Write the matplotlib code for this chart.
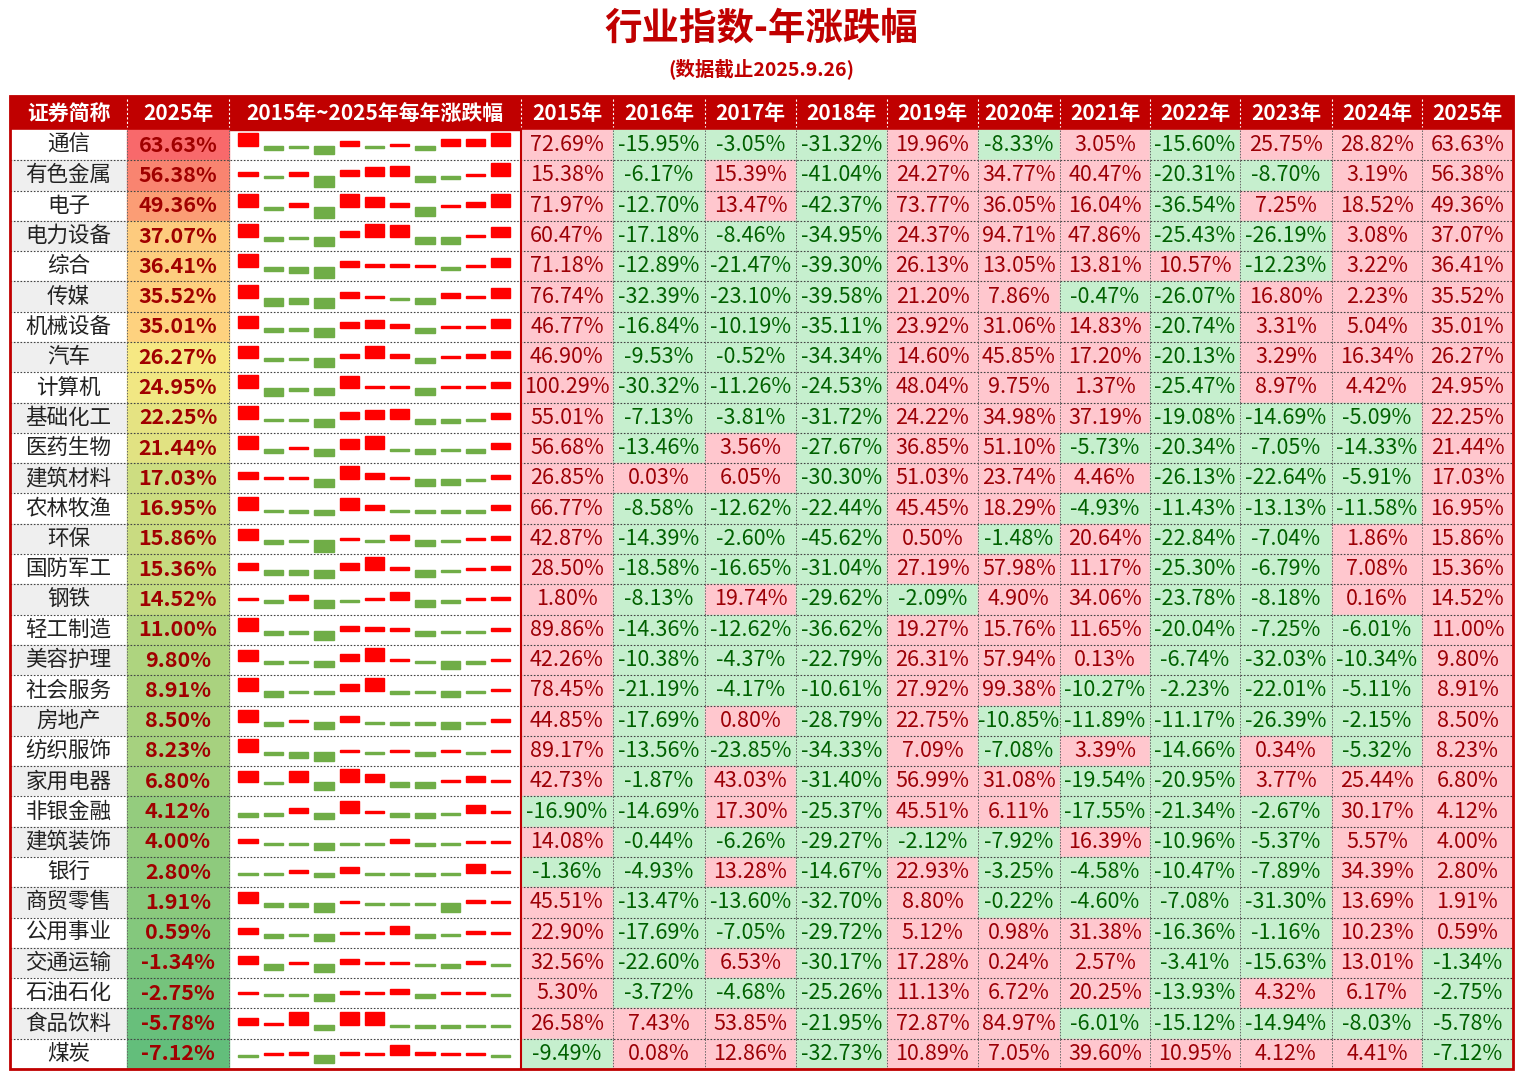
import matplotlib
matplotlib.use("Agg")
import matplotlib.pyplot as plt
from matplotlib.patches import Rectangle
from matplotlib.colors import LinearSegmentedColormap
import numpy as np

plt.rcParams['font.family'] = ['Noto Sans CJK SC', 'DejaVu Sans']

title = "行业指数-年涨跌幅"
subtitle = "(数据截止2025.9.26)"
years = ["2015年","2016年","2017年","2018年","2019年","2020年","2021年","2022年","2023年","2024年","2025年"]
industries = ["通信","有色金属","电子","电力设备","综合","传媒","机械设备","汽车","计算机","基础化工","医药生物",
              "建筑材料","农林牧渔","环保","国防军工","钢铁","轻工制造","美容护理","社会服务","房地产","纺织服饰",
              "家用电器","非银金融","建筑装饰","银行","商贸零售","公用事业","交通运输","石油石化","食品饮料","煤炭"]
values = [
 [72.69,-15.95,-3.05,-31.32,19.96,-8.33,3.05,-15.60,25.75,28.82,63.63],
 [15.38,-6.17,15.39,-41.04,24.27,34.77,40.47,-20.31,-8.70,3.19,56.38],
 [71.97,-12.70,13.47,-42.37,73.77,36.05,16.04,-36.54,7.25,18.52,49.36],
 [60.47,-17.18,-8.46,-34.95,24.37,94.71,47.86,-25.43,-26.19,3.08,37.07],
 [71.18,-12.89,-21.47,-39.30,26.13,13.05,13.81,10.57,-12.23,3.22,36.41],
 [76.74,-32.39,-23.10,-39.58,21.20,7.86,-0.47,-26.07,16.80,2.23,35.52],
 [46.77,-16.84,-10.19,-35.11,23.92,31.06,14.83,-20.74,3.31,5.04,35.01],
 [46.90,-9.53,-0.52,-34.34,14.60,45.85,17.20,-20.13,3.29,16.34,26.27],
 [100.29,-30.32,-11.26,-24.53,48.04,9.75,1.37,-25.47,8.97,4.42,24.95],
 [55.01,-7.13,-3.81,-31.72,24.22,34.98,37.19,-19.08,-14.69,-5.09,22.25],
 [56.68,-13.46,3.56,-27.67,36.85,51.10,-5.73,-20.34,-7.05,-14.33,21.44],
 [26.85,0.03,6.05,-30.30,51.03,23.74,4.46,-26.13,-22.64,-5.91,17.03],
 [66.77,-8.58,-12.62,-22.44,45.45,18.29,-4.93,-11.43,-13.13,-11.58,16.95],
 [42.87,-14.39,-2.60,-45.62,0.50,-1.48,20.64,-22.84,-7.04,1.86,15.86],
 [28.50,-18.58,-16.65,-31.04,27.19,57.98,11.17,-25.30,-6.79,7.08,15.36],
 [1.80,-8.13,19.74,-29.62,-2.09,4.90,34.06,-23.78,-8.18,0.16,14.52],
 [89.86,-14.36,-12.62,-36.62,19.27,15.76,11.65,-20.04,-7.25,-6.01,11.00],
 [42.26,-10.38,-4.37,-22.79,26.31,57.94,0.13,-6.74,-32.03,-10.34,9.80],
 [78.45,-21.19,-4.17,-10.61,27.92,99.38,-10.27,-2.23,-22.01,-5.11,8.91],
 [44.85,-17.69,0.80,-28.79,22.75,-10.85,-11.89,-11.17,-26.39,-2.15,8.50],
 [89.17,-13.56,-23.85,-34.33,7.09,-7.08,3.39,-14.66,0.34,-5.32,8.23],
 [42.73,-1.87,43.03,-31.40,56.99,31.08,-19.54,-20.95,3.77,25.44,6.80],
 [-16.90,-14.69,17.30,-25.37,45.51,6.11,-17.55,-21.34,-2.67,30.17,4.12],
 [14.08,-0.44,-6.26,-29.27,-2.12,-7.92,16.39,-10.96,-5.37,5.57,4.00],
 [-1.36,-4.93,13.28,-14.67,22.93,-3.25,-4.58,-10.47,-7.89,34.39,2.80],
 [45.51,-13.47,-13.60,-32.70,8.80,-0.22,-4.60,-7.08,-31.30,13.69,1.91],
 [22.90,-17.69,-7.05,-29.72,5.12,0.98,31.38,-16.36,-1.16,10.23,0.59],
 [32.56,-22.60,6.53,-30.17,17.28,0.24,2.57,-3.41,-15.63,13.01,-1.34],
 [5.30,-3.72,-4.68,-25.26,11.13,6.72,20.25,-13.93,4.32,6.17,-2.75],
 [26.58,7.43,53.85,-21.95,72.87,84.97,-6.01,-15.12,-14.94,-8.03,-5.78],
 [-9.49,0.08,12.86,-32.73,10.89,7.05,39.60,10.95,4.12,4.41,-7.12],
]
headers = ["证券简称","2025年","2015年~2025年每年涨跌幅"] + years

W, H = 1523, 1080
fig = plt.figure(figsize=(W/100, H/100), dpi=100)
ax = fig.add_axes([0,0,1,1])
ax.set_xlim(0, W); ax.set_ylim(H, 0); ax.axis('off')

xb = [10,127,229,521,613,705,796,887,978,1060,1150,1240,1332,1422,1513]
y0, hh = 96, 34
nrow = len(industries)
rh = (1069 - (y0+hh)) / nrow
RED = "#C00000"
FS = 15.5

ax.text(W/2, 28, title, ha='center', va='center', fontsize=27, fontweight='bold', color=RED)
ax.text(W/2, 69, subtitle, ha='center', va='center', fontsize=14, fontweight='bold', color=RED)

ax.add_patch(Rectangle((xb[0], y0), xb[-1]-xb[0], hh, color=RED, zorder=1))
for j, h in enumerate(headers):
    ax.text((xb[j]+xb[j+1])/2, y0+hh/2, h, ha='center', va='center', fontsize=15,
            fontweight='bold', color='white', zorder=3)
    if 0 < j:
        ax.plot([xb[j]]*2, [y0+3, y0+hh-3], color='white', lw=0.8, ls=(0,(2,2)), zorder=3)

cmap = LinearSegmentedColormap.from_list("g", ["#63BE7B", "#FFEB84", "#F8696B"])
v25 = [r[-1] for r in values]
vmin, vmax = min(v25), max(v25)

for i, name in enumerate(industries):
    top = y0 + hh + i*rh
    cy = top + rh/2
    ax.add_patch(Rectangle((xb[0], top), xb[1]-xb[0], rh, color=('#EFEFEF' if i % 2 else 'white'), zorder=1))
    ax.text((xb[0]+xb[1])/2, cy, name, ha='center', va='center', fontsize=FS, color='#222222', zorder=3)
    v = values[i][-1]
    ax.add_patch(Rectangle((xb[1], top), xb[2]-xb[1], rh, color=cmap((v-vmin)/(vmax-vmin)), zorder=1))
    ax.text((xb[1]+xb[2])/2, cy, f"{v:.2f}%", ha='center', va='center', fontsize=FS,
            fontweight='bold', color='#A00000', zorder=3)
    # sparkline
    sx0, sx1 = xb[2]+8, xb[3]-6
    slot = (sx1-sx0)/len(years)
    base = cy + 1
    for k, val in enumerate(values[i]):
        hgt = max(2.0, min(abs(val), 50)/50*13)
        c = '#FF0000' if val >= 0 else '#70AD47'
        yy = base - hgt if val >= 0 else base
        ax.add_patch(Rectangle((sx0+k*slot+1.5, yy), slot-6, hgt, color=c, zorder=2))
    for j, val in enumerate(values[i]):
        xl, xr = xb[3+j], xb[4+j]
        pos = val >= 0
        ax.add_patch(Rectangle((xl, top), xr-xl, rh, color=('#FFC7CE' if pos else '#C6EFCE'), zorder=1))
        ax.text((xl+xr)/2, cy, f"{val:.2f}%", ha='center', va='center', fontsize=FS,
                color=('#9C0006' if pos else '#006100'), zorder=3)
        if j > 0:
            ax.plot([xl]*2, [top, top+rh], color='#666666', lw=0.7, ls=(0,(1.5,1.5)), zorder=2)
    for xx in xb[1:4]:
        ax.plot([xx]*2, [top, top+rh], color='#666666', lw=0.7, ls=(0,(1.5,1.5)), zorder=2)
    ax.plot([xb[0], xb[-1]], [top+rh]*2, color='#444444', lw=0.8, ls=(0,(1.5,1.5)), zorder=2)

ax.add_patch(Rectangle((xb[0], y0), xb[-1]-xb[0], 1069-y0, fill=False, ec=RED, lw=2, zorder=4))
ax.plot([xb[3]]*2, [y0+hh, 1069], color=RED, lw=1.5, zorder=4)
fig.savefig("out.png", dpi=100)
